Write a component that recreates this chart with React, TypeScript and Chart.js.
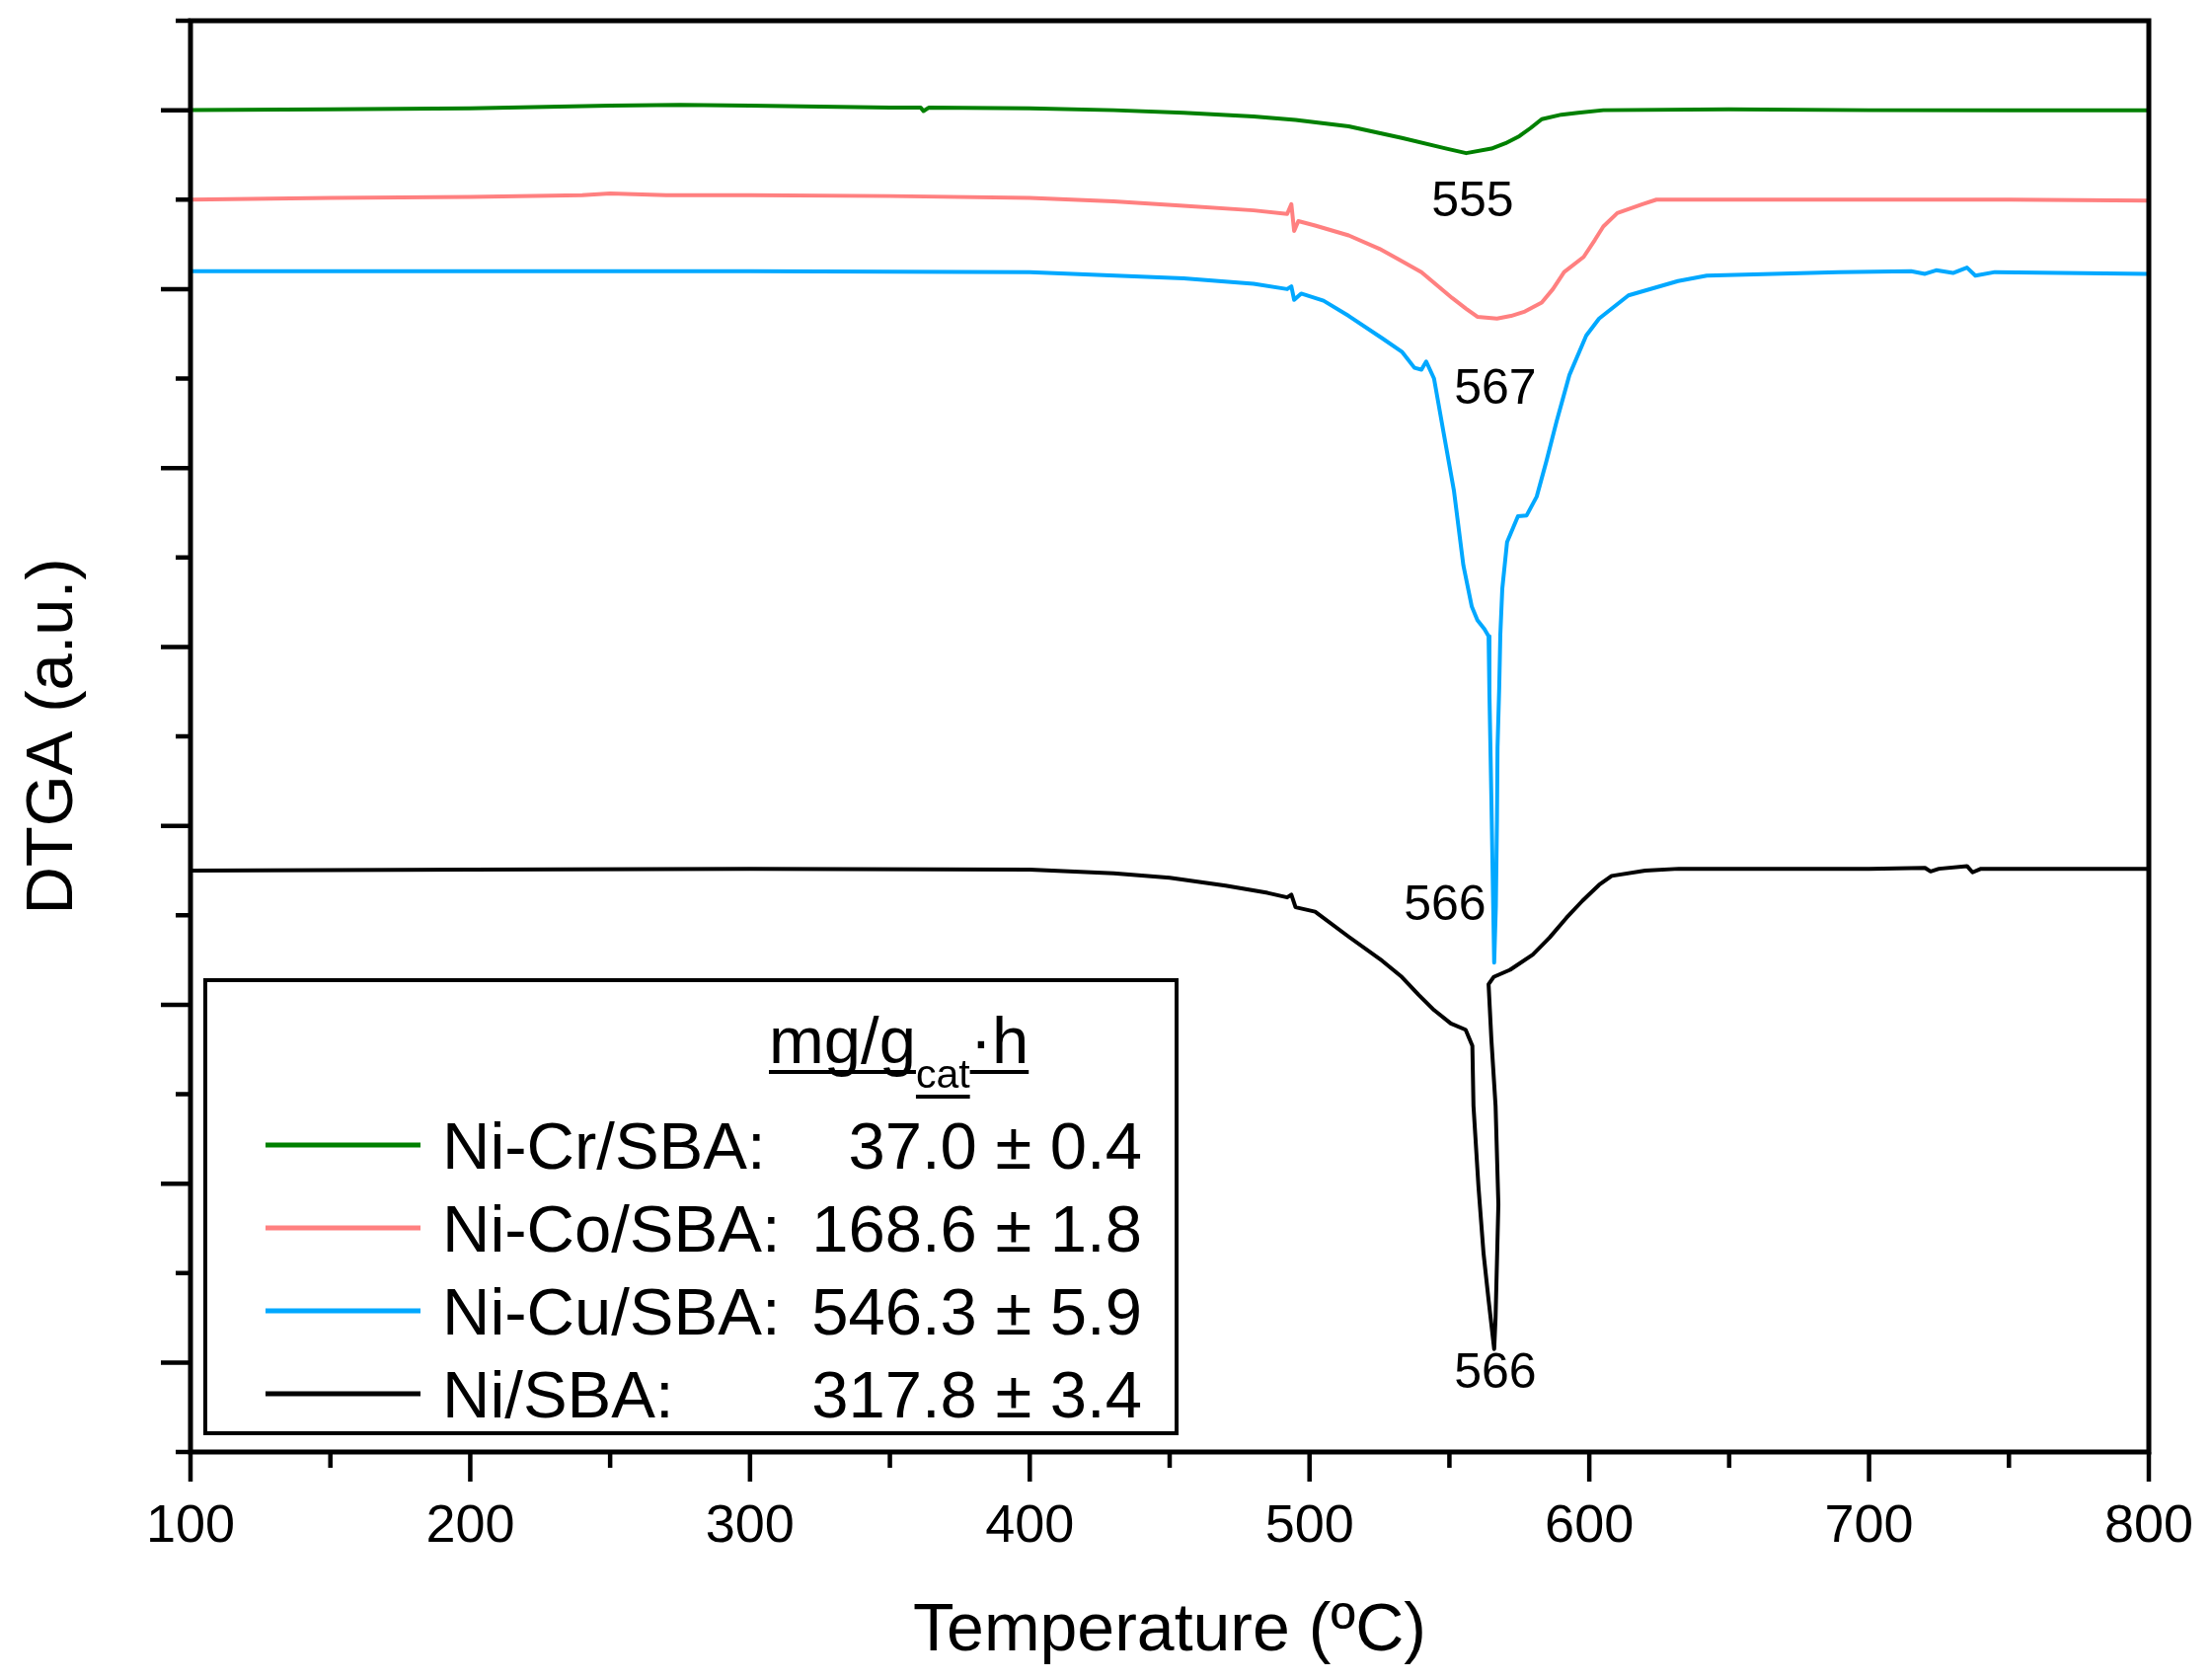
import { useEffect, useRef } from 'react';
import { Chart, registerables } from 'chart.js';

Chart.register(...registerables);

const FONT = '"Liberation Sans", Arial, Helvetica, sans-serif';

// [temperature ºC, DTGA signal (a.u., curves stacked with offsets)]
const niCrPoints: [number, number][] = [
  [100, 15.0], [150, 15.01], [200, 15.02], [250, 15.05], [275, 15.06], [300, 15.05],
  [350, 15.03], [361, 15.03], [362, 14.99], [364, 15.03], [400, 15.02], [430, 15.0],
  [455, 14.97], [480, 14.93], [495, 14.89], [514, 14.82], [533, 14.69], [549, 14.57],
  [556, 14.52], [565, 14.57], [570, 14.63], [575, 14.71], [579, 14.8], [583, 14.9],
  [590, 14.95], [596, 14.97], [605, 15.0], [650, 15.01], [700, 15.0], [750, 15.0], [800, 15.0],
];

const niCoPoints: [number, number][] = [
  [100, 14.0], [150, 14.02], [200, 14.03], [240, 14.05], [250, 14.07], [270, 14.05],
  [300, 14.05], [350, 14.04], [400, 14.02], [430, 13.98], [455, 13.93], [480, 13.88],
  [492, 13.84], [493.5, 13.95], [494.5, 13.65], [496, 13.76], [502, 13.71], [514, 13.6],
  [525, 13.45], [532, 13.33], [540, 13.19], [551, 12.9], [556, 12.78], [560, 12.69],
  [567, 12.67], [572, 12.7], [577, 12.75], [583, 12.85], [587, 13.0], [591, 13.19],
  [598, 13.36], [602, 13.55], [605, 13.7], [610, 13.85], [619, 13.95], [624, 14.0],
  [650, 14.0], [700, 14.0], [750, 14.0], [800, 13.99],
];

const niCuPoints: [number, number][] = [
  [100, 13.2], [150, 13.2], [200, 13.2], [300, 13.2], [400, 13.19], [455, 13.12],
  [480, 13.06], [492, 13.0], [493.5, 13.03], [494.5, 12.88], [497, 12.95], [505, 12.87],
  [514, 12.7], [526, 12.45], [533, 12.3], [537.5, 12.12], [540, 12.1], [541.7, 12.19],
  [544.5, 12.0], [548, 11.38], [551.6, 10.75], [555, 9.91], [558, 9.45], [560, 9.3],
  [562.5, 9.2], [564, 9.12], [564.3, 8.48], [565, 7.3], [565.6, 6.2], [566, 5.47],
  [566.6, 6.1], [567, 7.07], [567.2, 7.88], [567.8, 8.54], [568.2, 9.14], [568.9, 9.65],
  [570.6, 10.17], [574.5, 10.46], [577.6, 10.47], [581.2, 10.68], [584.7, 11.08],
  [588.3, 11.52], [592.9, 12.04], [598.9, 12.48], [603.5, 12.67], [614, 12.93],
  [631.7, 13.09], [642, 13.15], [689, 13.19], [715, 13.2], [720, 13.17], [724, 13.21],
  [730, 13.18], [735, 13.24], [738, 13.15], [745, 13.19], [800, 13.17],
];

const niPoints: [number, number][] = [
  [100, 6.5], [200, 6.51], [300, 6.52], [400, 6.51], [430, 6.47], [450, 6.42],
  [470, 6.33], [485, 6.25], [492, 6.2], [493.5, 6.23], [495, 6.09], [502, 6.04],
  [514, 5.76], [526, 5.49], [533, 5.31], [539, 5.11], [544.5, 4.94], [550.5, 4.79],
  [555.8, 4.72], [558.2, 4.54], [558.6, 3.87], [560.4, 2.96], [562.2, 2.22], [564, 1.7],
  [566, 1.15], [566.5, 1.5], [567.5, 2.77], [566.5, 3.87], [565, 4.61], [564, 5.23],
  [565.8, 5.31], [571.7, 5.39], [579.8, 5.56], [585.8, 5.75], [591.8, 5.97],
  [597.5, 6.16], [603.5, 6.34], [608, 6.44], [620, 6.5], [632, 6.52], [700, 6.52],
  [720, 6.53], [722, 6.49], [725, 6.52], [735, 6.55], [737, 6.48], [740, 6.52], [800, 6.52],
];

const seriesNames = ['Ni-Cr/SBA', 'Ni-Co/SBA', 'Ni-Cu/SBA', 'Ni/SBA'];
const seriesColors = ['#008000', '#ff8080', '#00a8ff', '#000000'];
const seriesRates = ['37.0 ± 0.4', '168.6 ± 1.8', '546.3 ± 5.9', '317.8 ± 3.4'];

const tempTicks = [100, 200, 300, 400, 500, 600, 700, 800];
const tempMinorTicks = [150, 250, 350, 450, 550, 650, 750];
const signalMajorTicks = [1, 3, 5, 7, 9, 11, 13, 15];
const signalMinorTicks = [0, 2, 4, 6, 8, 10, 12, 14, 16];

// peak temperatures written next to the minima, anchored in data units
const peakLabels = [
  { text: '555', t: 558.3, v: 13.81 },
  { text: '567', t: 566.4, v: 11.72 },
  { text: '566', t: 548.4, v: 5.95 },
  { text: '566', t: 566.4, v: 0.72 },
];

const decorations = {
  id: 'decorations',
  afterDraw(chart: Chart) {
    const { ctx, chartArea: area } = chart;
    const xs = chart.scales.x;
    const ys = chart.scales.y;
    ctx.save();
    ctx.strokeStyle = '#000';
    ctx.fillStyle = '#000';

    // frame
    ctx.lineWidth = 5;
    ctx.strokeRect(area.left, area.top, area.right - area.left, area.bottom - area.top);

    // y ticks (no labels)
    ctx.lineWidth = 4.5;
    ctx.beginPath();
    signalMajorTicks.forEach((v) => {
      const y = ys.getPixelForValue(v);
      ctx.moveTo(area.left - 30, y);
      ctx.lineTo(area.left, y);
    });
    signalMinorTicks.forEach((v) => {
      const y = ys.getPixelForValue(v);
      ctx.moveTo(area.left - 15, y);
      ctx.lineTo(area.left, y);
    });
    // x ticks
    tempTicks.forEach((t) => {
      const x = xs.getPixelForValue(t);
      ctx.moveTo(x, area.bottom);
      ctx.lineTo(x, area.bottom + 30);
    });
    tempMinorTicks.forEach((t) => {
      const x = xs.getPixelForValue(t);
      ctx.moveTo(x, area.bottom);
      ctx.lineTo(x, area.bottom + 16);
    });
    ctx.stroke();

    // peak labels
    ctx.font = `50px ${FONT}`;
    ctx.textAlign = 'center';
    ctx.textBaseline = 'alphabetic';
    peakLabels.forEach((p) => {
      ctx.fillText(p.text, xs.getPixelForValue(p.t), ys.getPixelForValue(p.v));
    });

    // legend box
    const bx = 208, by = 993, bw = 984, bh = 459;
    ctx.fillStyle = '#fff';
    ctx.fillRect(bx, by, bw, bh);
    ctx.lineWidth = 4;
    ctx.strokeRect(bx, by, bw, bh);
    ctx.fillStyle = '#000';

    // header mg/g_cat·h, underlined
    ctx.textAlign = 'left';
    let hx = 779;
    const base = 1077;
    const runs = [
      { s: 'mg/g', size: 67, dy: 0 },
      { s: 'cat', size: 41, dy: 25 },
      { s: '·h', size: 67, dy: 0 },
    ];
    ctx.lineWidth = 4;
    runs.forEach((r) => {
      ctx.font = `${r.size}px ${FONT}`;
      const w = ctx.measureText(r.s).width;
      ctx.fillText(r.s, hx, base + r.dy);
      ctx.beginPath();
      ctx.moveTo(hx, base + r.dy + 9);
      ctx.lineTo(hx + w, base + r.dy + 9);
      ctx.stroke();
      hx += w;
    });

    // entries
    chart.data.datasets.forEach((ds, i) => {
      const y = 1160 + i * 84;
      ctx.strokeStyle = ds.borderColor as string;
      ctx.lineWidth = 5;
      ctx.beginPath();
      ctx.moveTo(269, y);
      ctx.lineTo(426, y);
      ctx.stroke();
      ctx.font = `67px ${FONT}`;
      ctx.textAlign = 'left';
      ctx.fillText(`${ds.label}:`, 448, y + 24);
      ctx.textAlign = 'right';
      ctx.fillText(seriesRates[i], 1157, y + 24);
    });
    ctx.restore();
  },
};

export default function App() {
  const canvasRef = useRef<HTMLCanvasElement>(null);
  const chartRef = useRef<Chart | null>(null);

  useEffect(() => {
    document.body.style.margin = '0';
    document.body.style.overflow = 'hidden';
    if (!canvasRef.current) return;
    if (chartRef.current) chartRef.current.destroy();

    const allPoints = [niCrPoints, niCoPoints, niCuPoints, niPoints];

    chartRef.current = new Chart(canvasRef.current, {
      type: 'line',
      data: {
        datasets: allPoints.map((pts, i) => ({
          label: seriesNames[i],
          data: pts.map(([t, v]) => ({ x: t, y: v })),
          borderColor: seriesColors[i],
          backgroundColor: seriesColors[i],
          borderWidth: 4,
          borderJoinStyle: 'round' as const,
          pointRadius: 0,
          tension: 0,
          fill: false,
        })),
      },
      options: {
        responsive: false,
        animation: false,
        events: [],
        layout: { padding: { top: 21, right: 63, left: 0, bottom: 0 } },
        plugins: {
          legend: { display: false },
          tooltip: { enabled: false },
        },
        scales: {
          x: {
            type: 'linear',
            min: 100,
            max: 800,
            grid: { display: false, drawTicks: false },
            border: { display: false },
            afterBuildTicks: (scale: any) => {
              scale.ticks = tempTicks.map((v) => ({ value: v }));
            },
            afterFit: (scale: any) => {
              scale.height = 231;
              scale.paddingLeft = 0;
              scale.paddingRight = 0;
            },
            ticks: {
              color: '#000',
              padding: 44,
              maxRotation: 0,
              font: { family: FONT, size: 54 },
            },
            title: {
              display: true,
              text: 'Temperature (ºC)',
              color: '#000',
              font: { family: FONT, size: 68 },
              padding: { top: 0, bottom: 8 },
            },
          },
          y: {
            type: 'linear',
            min: 0,
            max: 16,
            grid: { display: false, drawTicks: false },
            border: { display: false },
            ticks: { display: false },
            afterFit: (scale: any) => {
              scale.width = 193;
              scale.paddingTop = 0;
              scale.paddingBottom = 0;
            },
            title: {
              display: true,
              text: 'DTGA (a.u.)',
              color: '#000',
              font: { family: FONT, size: 67 },
              padding: { top: 14, bottom: 0 },
            },
          },
        },
      },
      plugins: [decorations],
    });

    return () => {
      if (chartRef.current) {
        chartRef.current.destroy();
        chartRef.current = null;
      }
    };
  }, []);

  return (
    <div style={{ width: 2240, height: 1702, background: '#fff' }}>
      <canvas ref={canvasRef} width={2240} height={1702} style={{ display: 'block' }} />
    </div>
  );
}
